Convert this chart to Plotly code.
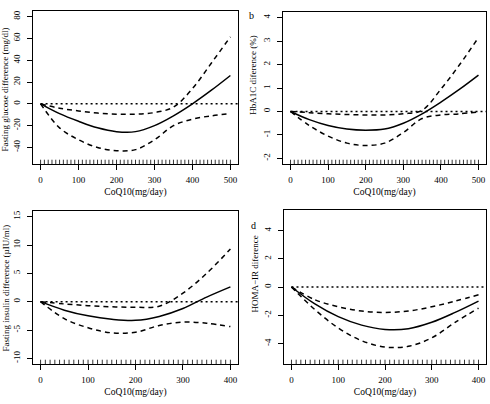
import plotly.graph_objects as go

# ---------------- data ----------------
dose_500 = [0, 50, 100, 150, 200, 250, 300, 350, 400, 450, 500]
dose_400 = [0, 50, 100, 150, 200, 250, 300, 350, 400]

glu_fit   = [0, -9, -16, -22, -25.5, -25.5, -20, -11, 0, 12.5, 26]
glu_upper = [0, -4, -6.5, -8.5, -9.5, -9.5, -8, -3, 14, 37.5, 61.5]
glu_lower = [0, -22, -33, -40, -43, -42, -33, -20, -14, -11, -9]

hba_fit   = [0, -0.35, -0.6, -0.75, -0.8, -0.75, -0.5, -0.1, 0.4, 0.95, 1.55]
hba_upper = [0, -0.05, -0.1, -0.13, -0.15, -0.15, -0.1, 0.05, 0.95, 2.0, 3.15]
hba_lower = [0, -0.6, -1.05, -1.35, -1.45, -1.35, -0.9, -0.3, -0.15, -0.1, -0.02]

ins_fit   = [0, -1.5, -2.5, -3.1, -3.3, -2.6, -1.2, 0.8, 2.6]
ins_upper = [0, -0.4, -0.7, -0.9, -1.0, -0.8, 1.5, 5.0, 9.3]
ins_lower = [0, -3.0, -4.6, -5.5, -5.4, -4.2, -3.6, -3.8, -4.4]

homa_fit   = [0, -1.2, -2.1, -2.7, -3.0, -2.95, -2.5, -1.8, -1.0]
homa_upper = [0, -0.9, -1.4, -1.7, -1.8, -1.7, -1.4, -1.0, -0.55]
homa_lower = [0, -1.6, -2.9, -3.8, -4.25, -4.2, -3.6, -2.5, -1.5]

rug_500 = list(range(0, 501, 10))
rug_400 = list(range(0, 401, 10))

xticks_500 = [0, 100, 200, 300, 400, 500]
xticks_400 = [0, 100, 200, 300, 400]
yticks_a = [-40, -20, 0, 20, 40, 60, 80]
yticks_b = [-2, -1, 0, 1, 2, 3, 4]
yticks_c = [-10, -5, 0, 5, 10, 15]
yticks_d = [-4, -2, 0, 2, 4]

titles_y = ["Fasting glucose difference (mg/dl)", "HbA1C diference (%)",
            "Fasting insulin difference (\u00b5IU/ml)", "HOMA\u2212IR diference"]
xtitle = "CoQ10(mg/day)"

# ---------------- layout params ----------------
W, H = 490, 404
FONT = "Liberation Serif"

panels = [
    dict(x=dose_500, fit=glu_fit, up=glu_upper, lo=glu_lower, rug=rug_500,
         xt=xticks_500, yt=yticks_a, xr=[-20, 520], yr=[-55.2, 85.2],
         px=(33, 238), py=(11, 164), title=titles_y[0], tpos=(5, 89.5), label=None),
    dict(x=dose_500, fit=hba_fit, up=hba_upper, lo=hba_lower, rug=rug_500,
         xt=xticks_500, yt=yticks_b, xr=[-20, 520], yr=[-2.24, 4.24],
         px=(283, 486), py=(12, 164), title=titles_y[1], tpos=(252.3, 75.5), label=("b", 251, 15.5)),
    dict(x=dose_400, fit=ins_fit, up=ins_upper, lo=ins_lower, rug=rug_400,
         xt=xticks_400, yt=yticks_c, xr=[-16, 416], yr=[-11, 16],
         px=(33, 238), py=(211, 364), title=titles_y[2], tpos=(5, 288.5), label=None),
    dict(x=dose_400, fit=homa_fit, up=homa_upper, lo=homa_lower, rug=rug_400,
         xt=xticks_400, yt=yticks_d, xr=[-16, 416], yr=[-5.45, 5.45],
         px=(284, 486), py=(210, 364), title=titles_y[3], tpos=(254, 274.5), label=("d", 253.5, 225)),
]

fig = go.Figure()
shapes = []
annotations = []
for i, p in enumerate(panels):
    n = "" if i == 0 else str(i + 1)
    xa, ya = "x" + n, "y" + n
    # dotted zero line
    fig.add_trace(go.Scatter(x=[0, p["xr"][1]], y=[0, 0], mode="lines", xaxis=xa, yaxis=ya,
                             line=dict(color="black", width=1.5, dash="2px,3px"), showlegend=False))
    for key, dash in (("up", "5px,4px"), ("lo", "5px,4px"), ("fit", "solid")):
        fig.add_trace(go.Scatter(x=p["x"], y=p[key], mode="lines", xaxis=xa, yaxis=ya,
                                 line=dict(color="black", width=1.5, dash=dash, shape="spline", smoothing=1.0),
                                 showlegend=False))
    for r in p["rug"]:
        shapes.append(dict(type="line", xref=xa, yref=ya + " domain", x0=r, x1=r, y0=0, y1=0.028,
                           line=dict(color="black", width=0.8)))
    xd = [p["px"][0] / W, p["px"][1] / W]
    yd = [1 - p["py"][1] / H, 1 - p["py"][0] / H]
    axcommon = dict(showline=True, linecolor="black", linewidth=1, mirror=True, showgrid=False,
                    zeroline=False, ticks="outside", ticklen=5, tickwidth=1, tickcolor="black",
                    tickfont=dict(family=FONT, size=9, color="black"))
    layout_x = dict(domain=xd, range=p["xr"], tickvals=p["xt"], anchor=ya, ticklabelstandoff=2,
                    title=dict(text=xtitle, font=dict(family=FONT, size=9.5, color="black"), standoff=4),
                    **axcommon)
    layout_y = dict(domain=yd, range=p["yr"], tickvals=p["yt"], ticktext=[str(v) for v in p["yt"]],
                    anchor=xa, tickangle=-90, ticklabelstandoff=3, **axcommon)
    fig.layout["xaxis" + n] = layout_x
    fig.layout["yaxis" + n] = layout_y
    tx, ty = p["tpos"]
    annotations.append(dict(text=p["title"], xref="paper", yref="paper", x=tx / W, y=1 - ty / H,
                            xanchor="center", yanchor="middle", textangle=-90, showarrow=False,
                            font=dict(family=FONT, size=9, color="black")))
    if p["label"]:
        t, lx, ly = p["label"]
        annotations.append(dict(text=t, xref="paper", yref="paper", x=lx / W, y=1 - ly / H,
                                xanchor="center", yanchor="middle",
                                showarrow=False, font=dict(family=FONT, size=10, color="black")))

fig.update_layout(width=W, height=H, autosize=False, margin=dict(l=0, r=0, t=0, b=0),
                  plot_bgcolor="white", paper_bgcolor="white", shapes=shapes, annotations=annotations)
fig.write_html("out.html")
